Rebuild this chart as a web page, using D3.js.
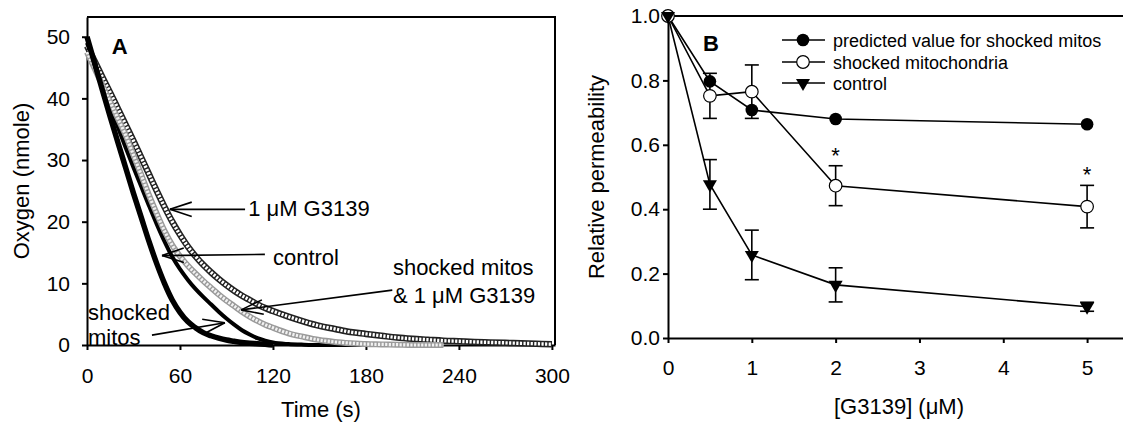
<!DOCTYPE html>
<html lang="en">
  <head>
    <meta charset="UTF-8" />
    <title>Oxygen consumption and permeability</title>
    <style>
      body { margin: 0; background: #fff; }
      svg text { font-family: "Liberation Sans", Arial, sans-serif; }
    </style>
  </head>
  <body>
    <div id="chart"></div>

    <script src="https://cdn.jsdelivr.net/npm/d3@7"></script>
    <script>

      // ---- panel A data: oxygen (nmole) vs time (s) ----
      var timeA = [0, 5, 10, 15, 20, 25, 30, 35, 40, 45, 50, 55, 60, 65, 70, 75, 80, 85, 90, 95, 100, 105, 110, 115, 120,
                   130, 140, 150, 160, 170, 180, 190, 200, 210, 220, 230, 240, 250, 260, 270, 280, 290, 300];
      var g3139Curve = [48.5, 46.0, 43.4, 40.9, 38.3, 35.7, 33.1, 30.4, 27.7, 25.0, 22.4, 20.0, 17.9, 16.0, 14.4, 13.0, 11.8, 10.7, 9.7, 8.8, 8.0, 7.3, 6.6, 6.0, 5.5,
                        4.6, 3.8, 3.1, 2.6, 2.1, 1.8, 1.5, 1.2, 1.0, 0.85, 0.7, 0.6, 0.5, 0.42, 0.35, 0.27, 0.2, 0.12];
      var shockedG3139Curve = [47.5, 44.8, 42.1, 39.4, 36.7, 34.0, 30.8, 27.6, 24.3, 21.3, 18.5, 16.2, 14.4, 12.9, 11.6, 10.4, 9.3, 8.2, 7.2, 6.3, 5.4, 4.6, 3.9, 3.3, 2.8,
                               1.9, 1.3, 0.8, 0.5, 0.3, 0.15, 0.1, 0.05, 0, 0, 0, null, null, null, null, null, null, null];
      var controlCurve = [49, 45.5, 42, 38.6, 35.3, 32.0, 28.8, 25.7, 22.6, 19.6, 16.8, 14.3, 12.3, 10.6, 9.1, 7.8, 6.6, 5.4, 4.3, 3.3, 2.4, 1.7, 1.1, 0.7, 0.4,
                          0.15, 0.05, 0, 0, 0, 0, null, null, null, null, null, null, null, null, null, null, null, null];
      var shockedCurve = [50, 45.6, 41.3, 37.0, 32.8, 28.7, 24.6, 20.7, 16.8, 13.2, 10.0, 7.3, 5.3, 3.8, 2.8, 2.0, 1.5, 1.1, 0.8, 0.6, 0.4, 0.3, 0.2, 0.1, 0,
                          null, null, null, null, null, null, null, null, null, null, null, null, null, null, null, null, null, null];
      var timeTicks = [0, 60, 120, 180, 240, 300];
      var oxygenTicks = [0, 10, 20, 30, 40, 50];

      // ---- panel B data: relative permeability vs [G3139] ----
      var conc = [0, 0.5, 1, 2, 5];
      var predicted = [1.0, 0.797, 0.708, 0.68, 0.664];
      var shockedB = [1.0, 0.752, 0.765, 0.473, 0.408];
      var shockedErr = [0, 0.07, 0.083, 0.062, 0.066];
      var controlB = [1.0, 0.477, 0.258, 0.165, 0.097];
      var controlErr = [0, 0.077, 0.077, 0.053, 0.014];
      var starConc = [2, 5];
      var concTicks = [0, 1, 2, 3, 4, 5];
      var permTicks = [0, 0.2, 0.4, 0.6, 0.8, 1.0];
      var legendLabels = ["predicted value for shocked mitos", "shocked mitochondria", "control"];

      var W = 1123, H = 423;
      var svg = d3.select("#chart").append("svg")
                  .attr("width", W)
                  .attr("height", H);

      function arrow(g, x1, y1, x2, y2) {
        // line from (x1,y1) to tip (x2,y2) with an open two-stroke head
        g.append("line")
         .attr("x1", x1).attr("y1", y1).attr("x2", x2).attr("y2", y2)
         .attr("stroke", "black").attr("stroke-width", 1.6);
        var ang = Math.atan2(y1 - y2, x1 - x2);
        [-0.32, 0.32].forEach(function(da) {
          g.append("line")
           .attr("x1", x2).attr("y1", y2)
           .attr("x2", x2 + 23 * Math.cos(ang + da))
           .attr("y2", y2 + 23 * Math.sin(ang + da))
           .attr("stroke", "black").attr("stroke-width", 1.6);
        });
      }

      function styleAxis(g) {
        g.selectAll("text").attr("font-size", 21).attr("fill", "black");
        g.selectAll("line, path").attr("stroke", "black").attr("stroke-width", 2);
      }

      // ================= panel A =================
      var xA = d3.scaleLinear().domain([0, 302]).range([87, 555]);
      var yA = d3.scaleLinear().domain([0, 53.2]).range([345, 17]);

      var gA = svg.append("g");

      gA.append("g")
        .attr("transform", "translate(0,345)")
        .call(d3.axisBottom(xA).tickValues(timeTicks).tickFormat(d3.format("d"))
                .tickSize(5).tickSizeOuter(0).tickPadding(18))
        .call(styleAxis);
      gA.append("g")
        .attr("transform", "translate(87,0)")
        .call(d3.axisLeft(yA).tickValues(oxygenTicks).tickFormat(d3.format("d"))
                .tickSize(5).tickSizeOuter(0).tickPadding(12))
        .call(styleAxis);
      // top and right frame
      gA.append("path")
        .attr("d", "M" + xA(0) + "," + yA(53.2) + "H" + xA(302) + "V" + yA(0))
        .attr("fill", "none").attr("stroke", "black").attr("stroke-width", 2);

      function curveLine(vals) {
        return d3.line()
                 .defined(function(d, i) { return vals[i] != null; })
                 .x(function(d, i) { return xA(timeA[i]); })
                 .y(function(d, i) { return yA(vals[i]); })
                 .curve(d3.curveMonotoneX)(vals);
      }

      // 1 uM G3139: dark ring chain
      gA.append("path").attr("d", curveLine(g3139Curve))
        .attr("fill", "none").attr("stroke", "#222").attr("stroke-width", 6.5);
      gA.append("path").attr("d", curveLine(g3139Curve))
        .attr("fill", "none").attr("stroke", "#fff").attr("stroke-width", 3.4)
        .attr("stroke-dasharray", "2.2,1.4");

      // control: thick black
      gA.append("path").attr("d", curveLine(controlCurve))
        .attr("fill", "none").attr("stroke", "black").attr("stroke-width", 4);

      // shocked + G3139: gray ring chain
      gA.append("path").attr("d", curveLine(shockedG3139Curve))
        .attr("fill", "none").attr("stroke", "#9a9a9a").attr("stroke-width", 6);
      gA.append("path").attr("d", curveLine(shockedG3139Curve))
        .attr("fill", "none").attr("stroke", "#f2f2f2").attr("stroke-width", 3.2)
        .attr("stroke-dasharray", "2.2,1.4");

      // shocked: thickest black
      gA.append("path").attr("d", curveLine(shockedCurve))
        .attr("fill", "none").attr("stroke", "black").attr("stroke-width", 5.5);

      gA.append("text")
        .attr("x", xA(16)).attr("y", yA(47.2))
        .attr("font-size", 22).attr("font-weight", "bold")
        .text("A");

      // annotations
      var ann = gA.append("g").attr("font-size", 22);
      arrow(ann, xA(102), yA(22.0), xA(53.5), yA(22.0));
      ann.append("text").attr("x", xA(104)).attr("y", yA(20.9)).text("1 \u03bcM G3139");

      arrow(ann, xA(114.8), yA(14.7), xA(48.4), yA(14.5));
      ann.append("text").attr("x", xA(120)).attr("y", yA(13.0)).text("control");

      arrow(ann, xA(197), yA(8.9), xA(99.5), yA(5.7));
      ann.append("text").attr("x", xA(197.4)).attr("y", yA(11.3)).text("shocked mitos");
      ann.append("text").attr("x", xA(197.4)).attr("y", yA(6.8)).text("& 1 \u03bcM G3139");

      arrow(ann, xA(41.9), yA(1.6), xA(89), yA(3.6));
      ann.append("text").attr("x", xA(0.6)).attr("y", yA(4.05)).text("shocked");
      ann.append("text").attr("x", xA(0.6)).attr("y", yA(0.05)).text("mitos");

      svg.append("text")
         .attr("text-anchor", "middle")
         .attr("x", (xA(0) + xA(302)) / 2).attr("y", 417)
         .attr("font-size", 22)
         .text("Time (s)");
      svg.append("text")
         .attr("text-anchor", "middle")
         .attr("transform", "translate(29," + (yA(0) + yA(53.2)) / 2 + ")rotate(-90)")
         .attr("font-size", 22)
         .text("Oxygen (nmole)");

      // ================= panel B =================
      var xB = d3.scaleLinear().domain([0, 5.5]).range([668, 1129]);
      var yB = d3.scaleLinear().domain([0, 1]).range([338, 16]);

      var gB = svg.append("g");

      gB.append("g")
        .attr("transform", "translate(0,338)")
        .call(d3.axisBottom(xB).tickValues(concTicks).tickFormat(d3.format("d"))
                .tickSize(5).tickSizeOuter(0).tickPadding(17))
        .call(styleAxis);
      gB.append("g")
        .attr("transform", "translate(668,0)")
        .call(d3.axisLeft(yB).tickValues(permTicks).tickFormat(d3.format(".1f"))
                .tickSize(5).tickSizeOuter(0).tickPadding(3))
        .call(styleAxis);
      gB.append("line")
        .attr("x1", xB(0)).attr("x2", xB(5.5))
        .attr("y1", yB(1)).attr("y2", yB(1))
        .attr("stroke", "black").attr("stroke-width", 2);

      var lineB = function(vals) {
        return d3.line()
                 .x(function(d, i) { return xB(conc[i]); })
                 .y(function(d, i) { return yB(vals[i]); })(vals);
      };
      [predicted, shockedB, controlB].forEach(function(vals) {
        gB.append("path").attr("d", lineB(vals))
          .attr("fill", "none").attr("stroke", "black").attr("stroke-width", 1.6);
      });

      function errorBars(vals, errs) {
        conc.forEach(function(c, i) {
          if (!errs[i]) return;
          var x = xB(c), y0 = yB(vals[i] - errs[i]), y1 = yB(vals[i] + errs[i]);
          gB.append("line").attr("x1", x).attr("x2", x).attr("y1", y0).attr("y2", y1)
            .attr("stroke", "black").attr("stroke-width", 1.6);
          [y0, y1].forEach(function(y) {
            gB.append("line").attr("x1", x - 7).attr("x2", x + 7).attr("y1", y).attr("y2", y)
              .attr("stroke", "black").attr("stroke-width", 1.6);
          });
        });
      }
      errorBars(shockedB, shockedErr);
      errorBars(controlB, controlErr);

      gB.selectAll(".pred")
        .data(predicted).enter().append("circle")
        .attr("cx", function(d, i) { return xB(conc[i]); })
        .attr("cy", function(d) { return yB(d); })
        .attr("r", 6.3).attr("fill", "black");
      gB.selectAll(".shock")
        .data(shockedB).enter().append("circle")
        .attr("cx", function(d, i) { return xB(conc[i]); })
        .attr("cy", function(d) { return yB(d); })
        .attr("r", 6.3).attr("fill", "white").attr("stroke", "black").attr("stroke-width", 1.2);
      var tri = d3.symbol().type(d3.symbolTriangle).size(85);
      gB.selectAll(".ctrl")
        .data(controlB).enter().append("path")
        .attr("d", tri)
        .attr("transform", function(d, i) { return "translate(" + xB(conc[i]) + "," + yB(d) + ")rotate(180)"; })
        .attr("fill", "black");

      starConc.forEach(function(c) {
        var i = conc.indexOf(c);
        gB.append("text")
          .attr("text-anchor", "middle")
          .attr("x", xB(c)).attr("y", yB(shockedB[i] + shockedErr[i]) - 3)
          .attr("font-size", 22)
          .text("*");
      });

      gB.append("text")
        .attr("x", 703).attr("y", 51)
        .attr("font-size", 22).attr("font-weight", "bold")
        .text("B");

      // legend
      var legY = [40, 62, 83];
      legendLabels.forEach(function(lab, i) {
        var g = gB.append("g").attr("transform", "translate(0," + legY[i] + ")");
        g.append("line").attr("x1", 782).attr("x2", 825).attr("stroke", "black").attr("stroke-width", 1.6);
        if (i === 0) g.append("circle").attr("cx", 803).attr("r", 6.3).attr("fill", "black");
        if (i === 1) g.append("circle").attr("cx", 803).attr("r", 6.3).attr("fill", "white").attr("stroke", "black").attr("stroke-width", 1.2);
        if (i === 2) g.append("path").attr("d", tri).attr("transform", "translate(803,0)rotate(180)").attr("fill", "black");
        g.append("text").attr("x", 833).attr("y", 6.5).attr("font-size", 18).text(lab);
      });

      svg.append("text")
         .attr("text-anchor", "middle")
         .attr("x", 899).attr("y", 414)
         .attr("font-size", 22)
         .text("[G3139] (\u03bcM)");
      svg.append("text")
         .attr("text-anchor", "middle")
         .attr("transform", "translate(604," + (yB(0) + yB(1)) / 2 + ")rotate(-90)")
         .attr("font-size", 22)
         .text("Relative permeability");

    </script>
  </body>
</html>
